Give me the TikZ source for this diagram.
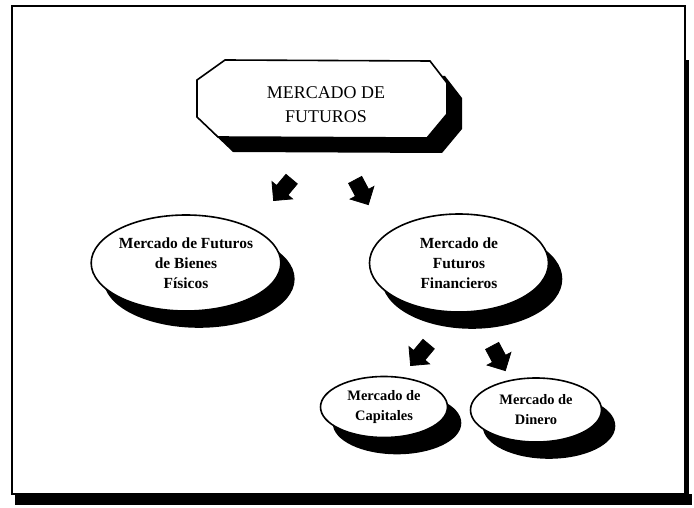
\documentclass[tikz,border=0pt]{standalone}
\usepackage{fontspec}
\setmainfont{Liberation Serif}
\usetikzlibrary{shapes.geometric,shapes.arrows,shadows}
\begin{document}
\begin{tikzpicture}[x=1bp,y=-1bp,
  outline/.style={draw=black, line width=1.6bp, fill=white},
  sh/.style={drop shadow={shadow xshift=13bp, shadow yshift=-16bp, opacity=1, fill=black, draw=black}},
  oval/.style={outline, ellipse, inner sep=0pt, align=center,
     font=\fontsize{15.5}{20}\selectfont\bfseries},
  smalloval/.style={oval, font=\fontsize{14.5}{20}\selectfont\bfseries},
  blockarrow/.style={single arrow, fill=black, draw=black, line width=0.8bp,
     inner xsep=0pt, inner ysep=7bp, minimum width=26bp, minimum height=28bp,
     single arrow head extend=6bp}]
\useasboundingbox (0,0) rectangle (694,508);
% frame
\fill[black] (15,494) rectangle (692,505);
\fill[black] (685,60) rectangle (689,494);
\draw[line width=2bp] (12,6) rectangle (685,494);
% top box (octagon) with shadow
\def\octpath{(225,60) -- (430,61) -- (447,83) -- (447,114) -- (427,138) -- (218,137) -- (197,117) -- (197,80) -- cycle}
\fill[black, shift={(15,15)}] \octpath;
\draw[outline] \octpath;
\node[font=\fontsize{18}{24}\selectfont, align=center] (top) at (326,105) {MERCADO DE\\FUTUROS};
% arrows
\node[blockarrow, rotate=-130] (a1) at (285,187) {};
\node[blockarrow, rotate=-62] (a2) at (360,189) {};
\node[blockarrow, rotate=-130] (a3) at (422,352) {};
\node[blockarrow, rotate=-62] (a4) at (497,355) {};
% ellipses
\node[oval, sh, minimum width=178bp, minimum height=96bp] (fis) at (186,263) {Mercado de Futuros\\de Bienes\\Físicos};
\node[oval, sh, minimum width=179bp, minimum height=98bp] (fin) at (459,263) {Mercado de\\Futuros\\Financieros};
\node[smalloval, sh, minimum width=127bp, minimum height=61bp] (cap) at (384,407) {Mercado de\\Capitales};
\node[smalloval, sh, minimum width=131bp, minimum height=64bp] (din) at (536,410) {Mercado de\\Dinero};
\end{tikzpicture}
\end{document}
